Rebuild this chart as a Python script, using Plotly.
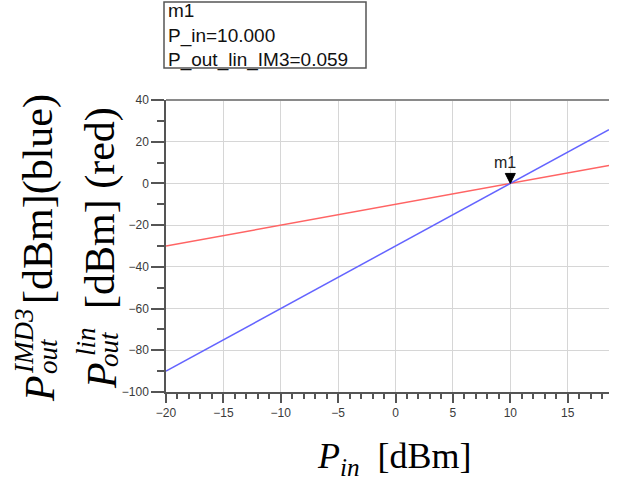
import plotly.graph_objects as go

# ---- data ----
p_in = [-20, 18.6]
p_out_lin = [-30, 8.6]
p_out_imd3 = [-90, 25.8]
marker_name = "m1"
marker_x = 10.0
marker_y = 0.059
x_ticks = [-20, -15, -10, -5, 0, 5, 10, 15]
y_ticks = [-100, -80, -60, -40, -20, 0, 20, 40]

# ---- layout geometry ----
W, H = 620, 481
L, R, T, B = 166, 11, 100, 89
PW, PH = W - L - R, H - T - B


def px(x):
    return (x - L) / PW


def py(y):
    return (H - B - y) / PH


fig = go.Figure()
fig.add_trace(go.Scatter(x=p_in, y=p_out_lin, mode="lines",
                         line=dict(color="#ff6464", width=1.5), showlegend=False))
fig.add_trace(go.Scatter(x=p_in, y=p_out_imd3, mode="lines",
                         line=dict(color="#6464ff", width=1.5), showlegend=False))

tickfont = dict(family="Liberation Sans, Arial", size=12, color="#3a3a3a")
fig.update_xaxes(range=[-20, 18.6], tickvals=x_ticks, ticks="outside", ticklen=9,
                 tickcolor="#555", tickwidth=1.5, showline=True, linecolor="#555",
                 linewidth=1.5, showgrid=True, gridcolor="#d6d6d6", gridwidth=1.2,
                 zeroline=False, tickfont=tickfont,
                 minor=dict(dtick=1, ticks="outside", ticklen=5, tickcolor="#555",
                            tickwidth=1.5, showgrid=False))
fig.update_yaxes(range=[-100, 40], tickvals=y_ticks, ticks="outside", ticklen=13,
                 tickcolor="#555", tickwidth=1.5, showline=True, linecolor="#555",
                 linewidth=1.5, showgrid=True, gridcolor="#d6d6d6", gridwidth=1.2,
                 zeroline=False, tickfont=tickfont,
                 minor=dict(dtick=10, ticks="outside", ticklen=7, tickcolor="#555",
                            tickwidth=1.5, showgrid=False))

# top border of the plot area
fig.add_shape(type="line", xref="paper", yref="paper", x0=0, x1=1, y0=1, y1=1,
              line=dict(color="#8a8a8a", width=2))

# marker triangle (tip on the point) and its label
fig.add_shape(type="path", xref="x", yref="y", xsizemode="pixel", ysizemode="pixel",
              xanchor=marker_x, yanchor=0, path="M -5 10 L 5 10 L 0 0 Z",
              fillcolor="black", line=dict(color="black", width=1))
fig.add_annotation(x=marker_x, y=0, text=marker_name, showarrow=False,
                   xanchor="center", yanchor="middle", xshift=-5, yshift=21,
                   font=dict(family="Liberation Sans, Arial", size=16, color="#222"))

# marker readout box
fig.add_shape(type="rect", xref="paper", yref="paper", x0=px(164), x1=px(366),
              y0=py(68), y1=py(2), line=dict(color="#555", width=1.5),
              fillcolor="white")
readout = [marker_name, f"P_in={marker_x:.3f}", f"P_out_lin_IM3={marker_y:.3f}"]
fig.add_annotation(xref="paper", yref="paper", x=px(166), y=py(35), xanchor="left",
                   yanchor="middle", showarrow=False, align="left",
                   text="<br>".join(readout),
                   font=dict(family="Liberation Sans, Arial", size=19, color="#111"))

# y axis titles (rotated, built from pieces to stack sub/superscripts)
serif = "Liberation Serif, DejaVu Serif"


def rot(text, cx, cy, size):
    fig.add_annotation(xref="paper", yref="paper", x=px(cx), y=py(cy), xanchor="center",
                       yanchor="middle", textangle=-90, showarrow=False, text=text,
                       font=dict(family=serif, size=size, color="black"))


rot("<i>P</i>", 40, 389, 42)
rot("<i>IMD3</i>", 24, 342, 27)
rot("<i>out</i>", 48, 356, 27)
rot("[dBm](blue)", 38, 199, 42)

rot("<i>P</i>", 102, 376, 42)
rot("<i>lin</i>", 86, 342, 27)
rot("<i>out</i>", 109, 349, 27)
rot("[dBm] (red)", 100, 208, 42)

# x axis title
fig.add_annotation(xref="paper", yref="paper", x=px(394), y=py(458), xanchor="center",
                   yanchor="middle", showarrow=False,
                   text="<i>P</i><sub><i>in</i></sub>  [dBm]",
                   font=dict(family=serif, size=36, color="black"))

fig.update_layout(width=W, height=H, margin=dict(l=L, r=R, t=T, b=B),
                  plot_bgcolor="white", paper_bgcolor="white")
fig.write_html("out.html", config={"displayModeBar": False},
               post_script="document.body.style.margin='0px';")
